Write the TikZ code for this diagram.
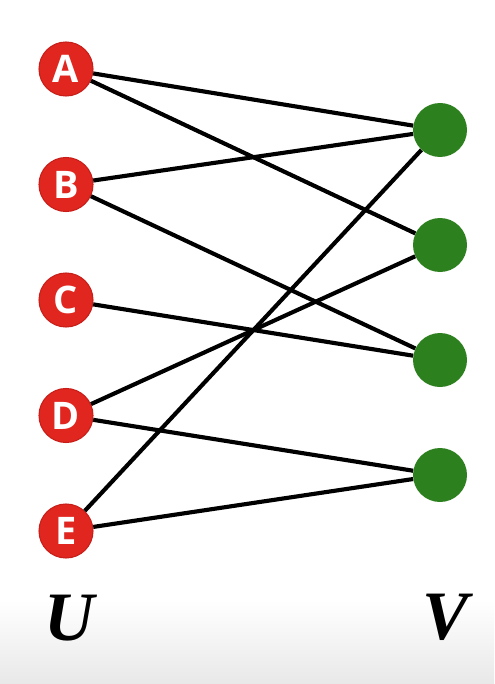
\documentclass[tikz,border=0pt]{standalone}
\usepackage{fontspec}
\newfontfamily\lettfont{Open Sans}
\newfontfamily\setfont{Liberation Serif}
\definecolor{nodered}{RGB}{224,38,30}
\definecolor{rimred}{RGB}{200,30,25}
\definecolor{nodegreen}{RGB}{45,128,30}
\begin{document}
\begin{tikzpicture}[x=0.75pt,y=-0.75pt,
  unode/.style={circle,fill=nodered,draw=rimred,line width=0.8pt,minimum size=40.5pt,inner sep=0pt,
    text=white,font=\lettfont\bfseries\fontsize{28.5pt}{28.5pt}\selectfont},
  vnode/.style={circle,fill=nodegreen,minimum size=40.5pt,inner sep=0pt},
  edge/.style={line width=3.1pt,black},
  setlabel/.style={anchor=base,inner sep=0pt,font=\setfont\bfseries\itshape\fontsize{52pt}{52pt}\selectfont}]
\useasboundingbox (0,0) rectangle (494,684);
\fill[white] (0,0) rectangle (494,684);
\shade[top color=white,bottom color=black!9] (0,600) rectangle (494,684);
% nodes
\node[unode] (A) at (66,69) {A};
\node[unode] (B) at (66,184.5) {B};
\node[unode] (C) at (66,300) {C};
\node[unode] (D) at (66,415.5) {D};
\node[unode] (E) at (66,531) {E};
\node[vnode] (V1) at (440,130) {};
\node[vnode] (V2) at (440,245) {};
\node[vnode] (V3) at (440,360) {};
\node[vnode] (V4) at (440,475) {};
% edges
\draw[edge] (A) -- (V1);
\draw[edge] (A) -- (V2);
\draw[edge] (B) -- (V1);
\draw[edge] (B) -- (V3);
\draw[edge] (C) -- (V3);
\draw[edge] (D) -- (V2);
\draw[edge] (D) -- (V4);
\draw[edge] (E) -- (V1);
\draw[edge] (E) -- (V4);
\node[setlabel] (U) at (70,640) {U};
\node[setlabel] (V) at (446,639) {V};
\end{tikzpicture}
\end{document}
